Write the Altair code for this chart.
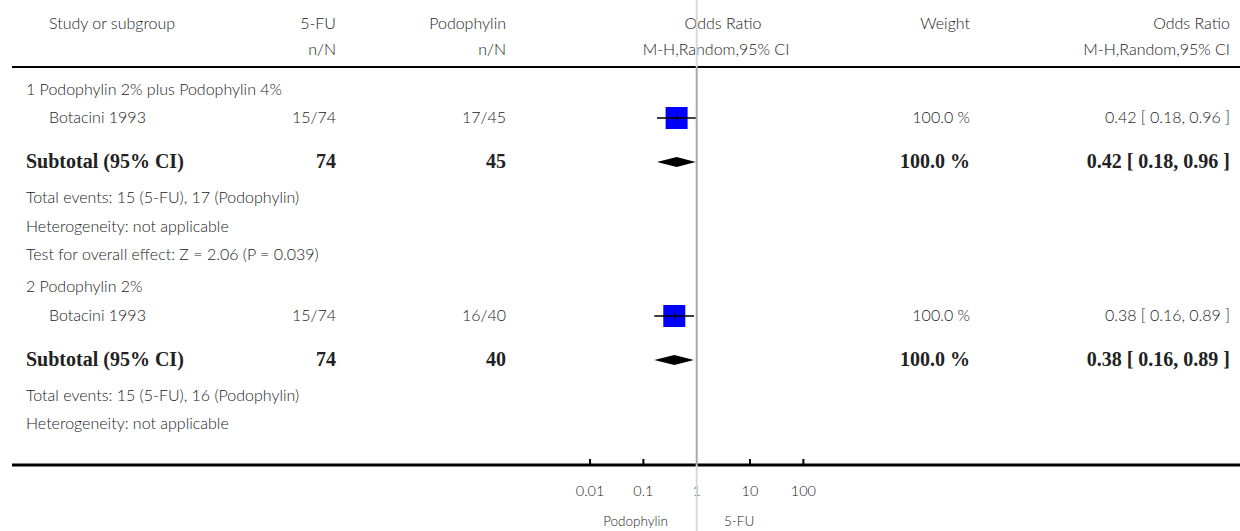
import math
import altair as alt
import pandas as pd

# ---------------- data ----------------
groups = ["1 Podophylin 2% plus Podophylin 4%", "2 Podophylin 2%"]
studies = ["Botacini 1993", "Botacini 1993"]
fu_events = [15, 15]
fu_total = [74, 74]
pod_events = [17, 16]
pod_total = [45, 40]
or_est = [0.42, 0.38]
or_lo = [0.18, 0.16]
or_hi = [0.96, 0.89]
weights = [100.0, 100.0]
overall_tests = ["Test for overall effect: Z = 2.06 (P = 0.039)", ""]
tick_values = [0.01, 0.1, 1, 10, 100]
tick_labels = ["0.01", "0.1", "1", "10", "100"]
left_label = "Podophylin"
right_label = "5-FU"

# ---------------- layout ----------------
W, H = 1240, 531
FONT = "Lato"
SERIF = "Liberation Serif"
TXT = "#222222"
FS = 16
rows = {
    "title": [90, 287],
    "study": [118, 316],
    "subtotal": [162, 360],
    "events": [198, 396],
    "het": [227, 424],
    "test": [255, None],
}
HDR1, HDR2, HDR_LINE, AX_LINE, TICK_LAB, BOT_LAB = 24, 50, 67, 465, 492, 522
X_LEFT, X_STUDY, X_FU, X_POD, X_WT, X_CI = 26, 49, 336, 506, 970, 1230
X_OR_HDR = 719
X_ONE = 696.7
DECADE = 53.33

log_domain = [10 ** (-X_ONE / DECADE), 10 ** ((W - X_ONE) / DECADE)]
logx = alt.Scale(type="log", domain=log_domain, nice=False, zero=False)
px = alt.Scale(domain=[0, W], nice=False, zero=False)
py = alt.Scale(domain=[0, H], reverse=True, nice=False, zero=False)

def fmt_ci(e, l, h):
    return f"{e:.2f} [ {l:.2f}, {h:.2f} ]"

reg_left, reg_right, reg_center, bold_left, bold_right = [], [], [], [], []

reg_left.append(("Study or subgroup", X_STUDY, HDR1))
reg_right += [("5-FU", X_FU, HDR1), ("Podophylin", X_POD, HDR1),
              ("n/N", X_FU, HDR2), ("n/N", X_POD, HDR2),
              ("Weight", X_WT, HDR1), ("Odds Ratio", X_CI, HDR1),
              ("M-H,Random,95% CI", X_CI, HDR2)]
reg_center += [("Odds Ratio", X_OR_HDR + 4, HDR1), ("M-H,Random,95% CI", X_OR_HDR - 3, HDR2)]

for i in range(len(groups)):
    reg_left.append((groups[i], X_LEFT, rows["title"][i]))
    reg_left.append((studies[i], X_STUDY, rows["study"][i]))
    reg_right.append((f"{fu_events[i]}/{fu_total[i]}", X_FU, rows["study"][i]))
    reg_right.append((f"{pod_events[i]}/{pod_total[i]}", X_POD, rows["study"][i]))
    reg_right.append((f"{weights[i]:.1f} %", X_WT, rows["study"][i]))
    reg_right.append((fmt_ci(or_est[i], or_lo[i], or_hi[i]), X_CI, rows["study"][i]))
    bold_left.append(("Subtotal (95% CI)", X_LEFT, rows["subtotal"][i]))
    bold_right.append((str(fu_total[i]), X_FU, rows["subtotal"][i]))
    bold_right.append((str(pod_total[i]), X_POD, rows["subtotal"][i]))
    bold_right.append((f"{weights[i]:.1f} %", X_WT, rows["subtotal"][i]))
    bold_right.append((fmt_ci(or_est[i], or_lo[i], or_hi[i]), X_CI, rows["subtotal"][i]))
    reg_left.append((f"Total events: {fu_events[i]} (5-FU), {pod_events[i]} (Podophylin)",
                     X_LEFT, rows["events"][i]))
    reg_left.append(("Heterogeneity: not applicable", X_LEFT, rows["het"][i]))
    if overall_tests[i]:
        reg_left.append((overall_tests[i], X_LEFT, rows["test"][i]))

bottom_right = [(left_label, 668, BOT_LAB)]
bottom_left = [(right_label, 724, BOT_LAB)]

def text_layer(items, align, font, size, weight="normal"):
    df = pd.DataFrame(items, columns=["t", "x", "y"])
    return alt.Chart(df).mark_text(align=align, baseline="middle", font=font,
                                   fontSize=size, fontWeight=weight, color=TXT).encode(
        x=alt.X("x:Q", scale=px, axis=None),
        y=alt.Y("y:Q", scale=py, axis=None),
        text="t:N",
    )

layers = [
    text_layer(reg_left, "left", FONT, FS, 300),
    text_layer(reg_right, "right", FONT, FS, 300),
    text_layer(reg_center, "center", FONT, FS, 300),
    text_layer(bottom_right, "right", FONT, 13.5, 300),
    text_layer(bottom_left, "left", FONT, 13.5, 300),
    text_layer(bold_left, "left", SERIF, 20, "bold"),
    text_layer(bold_right, "right", SERIF, 20, "bold"),
]

# horizontal lines
hl = pd.DataFrame({"x1": [12, 12], "x2": [W, W], "y": [HDR_LINE, AX_LINE], "w": [2, 3]})
for _, r in hl.iterrows():
    layers.append(alt.Chart(pd.DataFrame([r])).mark_rule(color="black", strokeWidth=float(r["w"])).encode(
        x=alt.X("x1:Q", scale=px, axis=None), x2="x2:Q",
        y=alt.Y("y:Q", scale=py, axis=None)))

# axis ticks and labels
tk = pd.DataFrame({"v": tick_values, "lab": tick_labels})
tk_no1 = tk[tk["v"] != 1]
layers.append(alt.Chart(tk_no1).mark_rule(color="black", strokeWidth=2).encode(
    x=alt.X("v:Q", scale=logx, axis=None),
    y=alt.Y("y1:Q", scale=py, axis=None), y2="y2:Q").transform_calculate(
    y1=str(AX_LINE - 6), y2=str(AX_LINE)))
layers.append(alt.Chart(tk).mark_text(align="center", baseline="middle", font=FONT,
                                      fontSize=14.5, fontWeight=300, color=TXT).encode(
    x=alt.X("v:Q", scale=logx, axis=None),
    y=alt.Y("y:Q", scale=py, axis=None), text="lab:N").transform_calculate(y=str(TICK_LAB)))

# vertical line of no effect
vl = pd.DataFrame({"v": [1, 1, 1], "y1": [0, HDR_LINE, AX_LINE], "y2": [HDR_LINE, AX_LINE, H],
                   "c": ["#d9d9d9", "#a8a8a8", "#d9d9d9"]})
layers.append(alt.Chart(vl).mark_rule(strokeWidth=2).encode(
    x=alt.X("v:Q", scale=logx, axis=None),
    y=alt.Y("y1:Q", scale=py, axis=None), y2="y2:Q",
    color=alt.Color("c:N", scale=None)))

# study squares + CI
st = pd.DataFrame({"e": or_est, "l": or_lo, "h": or_hi, "y": rows["study"]})
layers.append(alt.Chart(st).mark_square(size=484, color="#0000ff", opacity=1).encode(
    x=alt.X("e:Q", scale=logx, axis=None), y=alt.Y("y:Q", scale=py, axis=None)))
layers.append(alt.Chart(st).mark_rule(color="black", strokeWidth=1.3).encode(
    x=alt.X("l:Q", scale=logx, axis=None), x2="h:Q", y=alt.Y("y:Q", scale=py, axis=None)))
layers.append(alt.Chart(st).mark_rule(color="black", strokeWidth=1).encode(
    x=alt.X("e:Q", scale=logx, axis=None),
    y=alt.Y("y1:Q", scale=py, axis=None), y2="y2:Q").transform_calculate(
    y1="datum.y - 3", y2="datum.y + 3"))

# subtotal diamonds
dia = []
for i in range(len(groups)):
    yc = rows["subtotal"][i]
    dia += [(i, or_lo[i], yc, yc), (i, or_est[i], yc - 5, yc + 5), (i, or_hi[i], yc, yc)]
dd = pd.DataFrame(dia, columns=["g", "x", "y1", "y2"])
layers.append(alt.Chart(dd).mark_area(color="black", orient="vertical", opacity=1).encode(
    x=alt.X("x:Q", scale=logx, axis=None),
    y=alt.Y("y1:Q", scale=py, axis=None), y2="y2:Q", detail="g:N"))

chart = alt.layer(*layers).resolve_scale(x="independent", y="independent").properties(
    width=W, height=H, padding=0, autosize=alt.AutoSizeParams(type="none")
).configure_view(stroke=None)

chart.save("out.html", embed_options={"renderer": "svg", "actions": False})
